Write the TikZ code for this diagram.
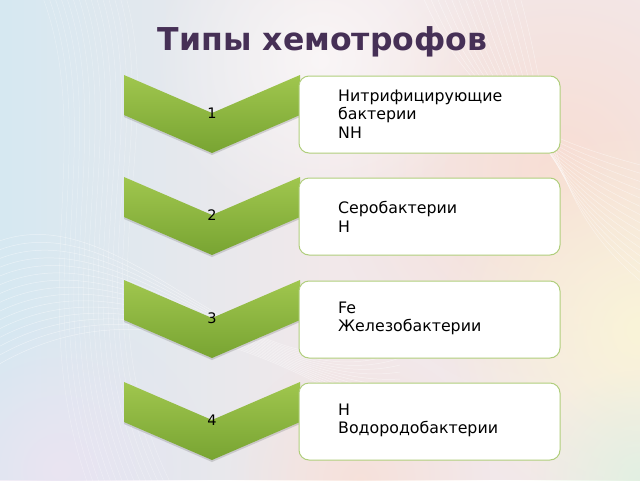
\documentclass[tikz,border=0pt]{standalone}
\usepackage{fontspec}
\setmainfont{DejaVu Sans}
\usetikzlibrary{shadings,fadings}
\tikzfading[name=softfade, inner color=transparent!0, outer color=transparent!100]
\definecolor{titlec}{RGB}{70,48,86}
\definecolor{gtop}{RGB}{160,198,78}
\definecolor{gbot}{RGB}{120,164,50}
\definecolor{boxline}{RGB}{176,206,124}
\definecolor{bgbase}{RGB}{242,232,234}
\definecolor{bgblue}{RGB}{214,232,242}
\definecolor{bgpeach}{RGB}{248,222,212}
\definecolor{bgyel}{RGB}{250,244,216}
\definecolor{bgmint}{RGB}{226,240,226}
\definecolor{bglav}{RGB}{234,228,242}
\tikzset{
  chev/.style={top color=gtop, bottom color=gbot, draw=none},
  chevshadow/.style={fill=black!50, opacity=0.3, draw=none},
  numtext/.style={font=\fontsize{14.5}{16}\selectfont, text=black, inner sep=0pt},
  itembox/.style={draw=boxline, line width=1pt, fill=white, rounded corners=10pt,
    minimum width=261pt, minimum height=77pt, inner sep=0pt},
  itemtext/.style={font=\fontsize{15.8}{18.3}\selectfont, align=left, anchor=west, inner sep=0pt, text=black},
  titletext/.style={font=\bfseries\fontsize{31.5}{34}\selectfont, text=titlec, anchor=base, inner sep=0pt},
  blob/.style={path fading=softfade},
  wave/.style={white, opacity=0.45, line width=0.5pt}
}
\begin{document}
\begin{tikzpicture}[x=1pt,y=-1pt]
\useasboundingbox (0,0) rectangle (640,480);
% background
\fill[bgbase] (0,0) rectangle (640,480);
\fill[bgblue, path fading=east] (0,0) rectangle (330,480);
\fill[bgpeach, blob] (560,170) circle (230pt);
\fill[bgyel, blob] (640,330) circle (200pt);
\fill[bgmint, blob] (640,480) circle (110pt);
\fill[white, opacity=0.6, blob] (320,60) circle (170pt);
\fill[bglav, blob] (60,470) circle (150pt);
\fill[bgpeach, opacity=0.7, blob] (360,480) circle (130pt);
\foreach \k in {0,...,14}{
  \draw[wave] (-20,250+9*\k) .. controls (120,170+8*\k) and (260,430-6*\k) .. (400,330+7*\k);
  \draw[wave] (420+7*\k,-10) .. controls (470+6*\k,110) and (540,140+5*\k) .. (660,170+9*\k);
  \draw[wave, opacity=0.3] (40+6*\k,-10) .. controls (100+5*\k,140) and (20+4*\k,300) .. (90+6*\k,490);
}
% title
\node[titletext] (title) at (322.5,50) {Типы хемотрофов};
% items
\foreach \i/\y in {1/75,2/177,3/280,4/382}{
  \fill[chevshadow] (124,\y+2) -- (212,\y+40) -- (300,\y+2) -- (300,\y+42) -- (212,\y+80) -- (124,\y+42) -- cycle;
  \shade[chev] (124,\y) -- (212,\y+38) -- (300,\y) -- (300,\y+40) -- (212,\y+78) -- (124,\y+40) -- cycle;
  \node[numtext] (n\i) at (212,\y+38) {\i};
  \node[itembox] (b\i) at (429.5,\y+39.5) {};
}
\node[itemtext] (t1) at (338,114) {Нитрифицирующие\\бактерии\\NH};
\node[itemtext] (t2) at (338,217) {Серобактерии\\H};
\node[itemtext] (t3) at (338,318.5) {Fe\\Железобактерии};
\node[itemtext] (t4) at (338,420.5) {H\\Водородобактерии};
\end{tikzpicture}
\end{document}
